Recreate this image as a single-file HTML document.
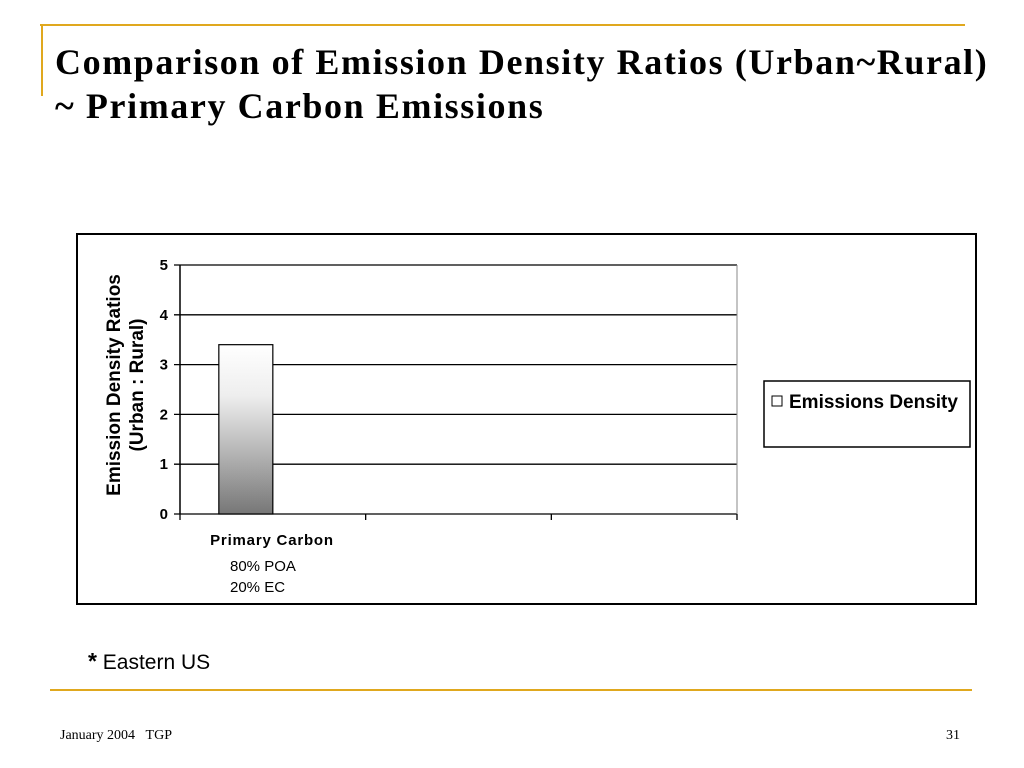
<!DOCTYPE html>
<html><head><meta charset="utf-8"><style>
body{margin:0;width:1024px;height:768px;background:#fff;position:relative;overflow:hidden;font-family:"Liberation Sans",sans-serif}
.a{position:absolute}
</style></head><body>
<div class="a" style="left:40px;top:24px;width:925px;height:2px;background:#e0a81e"></div>
<div class="a" style="left:41px;top:24px;width:2px;height:72px;background:#e0a81e"></div>
<div class="a" style="left:55px;top:40px;font-family:'Liberation Serif',serif;font-weight:bold;font-size:36px;letter-spacing:1.6px;line-height:44px;color:#000;white-space:nowrap">Comparison of Emission Density Ratios (Urban~Rural)<br>~ Primary Carbon Emissions</div>
<svg class="a" style="left:0;top:0" width="1024" height="768">
<defs><linearGradient id="g" x1="0" y1="0" x2="0" y2="1"><stop offset="0" stop-color="#fff"/><stop offset="0.3" stop-color="#eee"/><stop offset="1" stop-color="#777"/></linearGradient></defs>
<rect x="77" y="234" width="899" height="370" fill="#fff" stroke="#000" stroke-width="2"/>
<g id="plot"></g>
<text x="0" y="0" transform="translate(120,385) rotate(-90)" text-anchor="middle" font-size="19" font-weight="bold"><tspan x="0" dy="0">Emission Density Ratios</tspan><tspan x="0" dy="23">(Urban : Rural)</tspan></text>
<text x="272" y="545" text-anchor="middle" font-size="15" font-weight="bold" letter-spacing="0.8">Primary Carbon</text>
<text x="230" y="571" font-size="15">80% POA</text>
<text x="230" y="592" font-size="15">20% EC</text>
<rect x="764" y="381" width="206" height="66" fill="#fff" stroke="#000" stroke-width="1.5"/>
<rect x="772" y="396" width="10" height="10" fill="#fff" stroke="#000"/>
<text x="789" y="408" font-size="19" font-weight="bold">Emissions Density</text>
</svg>
<div class="a" style="left:88px;top:648px;font-size:21px"><b style="font-size:23px">*</b> Eastern US</div>
<div class="a" style="left:50px;top:689px;width:922px;height:2px;background:#e0a81e"></div>
<div class="a" style="left:60px;top:728px;font-family:'Liberation Serif',serif;font-size:14px">January 2004&nbsp;&nbsp;&nbsp;TGP</div>
<div class="a" style="left:946px;top:728px;font-family:'Liberation Serif',serif;font-size:14px">31</div>
<script>
const categories=["Primary Carbon","",""];
const values=[3.4];
const yTicks=[0,1,2,3,4,5];
const X0=180,X1=737,Y0=514,Y1=265,YMAX=5;
const y=v=>Y0-(Y0-Y1)*v/YMAX;
const bw=(X1-X0)/categories.length;
const g=document.getElementById('plot');
const NS='http://www.w3.org/2000/svg';
function mk(t,a){const e=document.createElementNS(NS,t);for(const k in a)e.setAttribute(k,a[k]);g.appendChild(e);return e;}
yTicks.forEach(t=>{
 const l=mk('line',{x1:X0-6,x2:X1,y1:y(t),y2:y(t),stroke:'#000','stroke-width':1.3});
 
 
 const tx=mk('text',{x:X0-12,y:y(t)+5,'text-anchor':'end','font-size':15,'font-weight':'bold','font-family':'Liberation Sans'});
 tx.textContent=t;
 
 
});
const ax=mk('line',{x1:X0,x2:X0,y1:Y1,y2:Y0,stroke:'#000','stroke-width':1.5});


const rb=mk('line',{x1:X1,x2:X1,y1:Y1,y2:Y0,stroke:'#888','stroke-width':1});


for(let i=0;i<=categories.length;i++){
 const t=mk('line',{x1:X0+i*bw,x2:X0+i*bw,y1:Y0,y2:Y0+6,stroke:'#000','stroke-width':1.3});
 
 
}
values.forEach((v,i)=>{
 const cx=X0+bw*(i+0.5)-27;
 const r=mk('rect',{x:cx-27,y:y(v),width:54,height:Y0-y(v),fill:'url(#g)',stroke:'#000','stroke-width':1.2});
 
 
});
</script>
</body></html>
